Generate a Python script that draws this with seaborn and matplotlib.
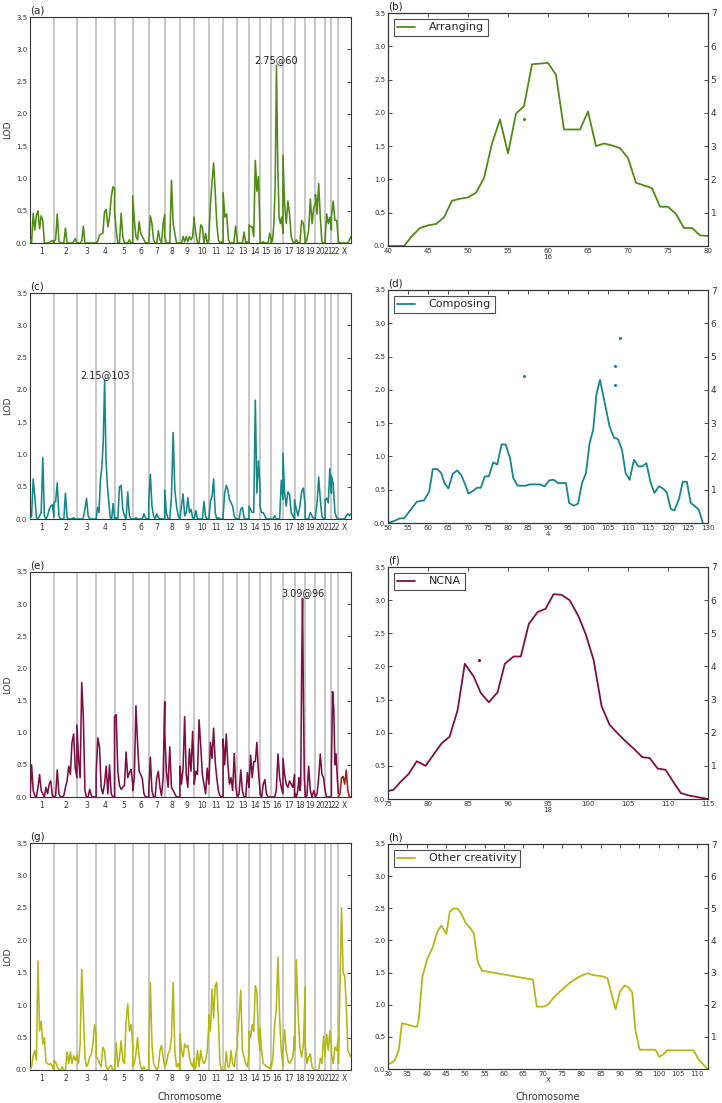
import numpy as np
import pandas as pd
import seaborn as sns
import matplotlib.pyplot as plt

# chromosome layout (genetic map length, cM)
chrom_names = [str(i) for i in range(1, 23)] + ["X"]
chrom_len = [278, 266, 223, 213, 211, 186, 185, 176, 166, 170, 165, 166,
             135, 127, 131, 135, 134, 124, 119, 112, 73, 81, 146]

# genome-wide LOD scans, one list per chromosome (evenly spaced along it)
arranging_lod = [
    [0.05, 0.0, 0.46, 0.2, 0.42, 0.5, 0.22, 0.42, 0.35, 0.0, 0.0, 0.0, 0.0, 0.02, 0.04, 0.0],
    [0.03, 0.05, 0.45, 0.03, 0.0, 0.0, 0.0, 0.23, 0.0, 0.0, 0.0, 0.0, 0.02, 0.07, 0.0],
    [0.0, 0.0, 0.0, 0.03, 0.26, 0.0, 0.0, 0.0, 0.0, 0.0, 0.0, 0.0, 0.0],
    [0.0, 0.03, 0.12, 0.14, 0.15, 0.48, 0.52, 0.25, 0.4, 0.7, 0.87, 0.85],
    [0.5, 0.2, 0.0, 0.0, 0.46, 0.1, 0.0, 0.0, 0.0, 0.05, 0.0, 0.0],
    [0.73, 0.35, 0.1, 0.05, 0.33, 0.15, 0.1, 0.05, 0.0, 0.0, 0.0],
    [0.0, 0.42, 0.3, 0.05, 0.0, 0.0, 0.19, 0.05, 0.0, 0.3, 0.44],
    [0.1, 0.0, 0.0, 0.0, 0.97, 0.3, 0.15, 0.0, 0.0, 0.0],
    [0.0, 0.0, 0.1, 0.02, 0.1, 0.02, 0.1, 0.05, 0.1, 0.4],
    [0.35, 0.15, 0.0, 0.0, 0.28, 0.25, 0.0, 0.15, 0.0, 0.05],
    [0.1, 0.6, 0.95, 1.24, 0.8, 0.3, 0.05, 0.0, 0.02, 0.0],
    [0.78, 0.4, 0.45, 0.05, 0.0, 0.0, 0.0, 0.26, 0.05],
    [0.0, 0.0, 0.0, 0.0, 0.17, 0.0, 0.02, 0.0],
    [0.28, 0.25, 0.25, 0.1, 1.28, 0.8, 1.03, 0.2],
    [0.0, 0.0, 0.02, 0.0, 0.0, 0.0, 0.15, 0.05],
    [0.0, 0.05, 0.3, 0.9, 2.75, 1.2, 0.4, 0.3, 0.4, 0.15],
    [1.36, 0.6, 0.3, 0.65, 0.45, 0.1, 0.02, 0.0],
    [0.0, 0.05, 0.0, 0.0, 0.35, 0.3, 0.05],
    [0.0, 0.05, 0.2, 0.68, 0.3, 0.55, 0.62],
    [0.75, 0.45, 0.92, 0.4, 0.02, 0.0, 0.0],
    [0.05, 0.45, 0.3, 0.4, 0.2],
    [0.4, 0.65, 0.35, 0.35, 0.05],
    [0.02, 0.0, 0.0, 0.0, 0.0, 0.0, 0.0, 0.05, 0.1],
]

composing_lod = [
    [0.0, 0.05, 0.62, 0.35, 0.02, 0.0, 0.05, 0.1, 0.95, 0.05, 0.0, 0.05, 0.15, 0.2, 0.22, 0.03],
    [0.25, 0.27, 0.56, 0.05, 0.0, 0.0, 0.0, 0.4, 0.02, 0.0, 0.0, 0.0, 0.02, 0.0, 0.0],
    [0.0, 0.0, 0.0, 0.0, 0.02, 0.15, 0.32, 0.05, 0.0, 0.0, 0.0, 0.0, 0.0],
    [0.0, 0.18, 0.1, 0.6, 0.8, 1.18, 2.15, 0.9, 0.5, 0.25, 0.02, 0.0, 0.24, 0.02],
    [0.0, 0.02, 0.0, 0.5, 0.52, 0.15, 0.05, 0.0, 0.42, 0.05, 0.0, 0.0],
    [0.0, 0.0, 0.02, 0.0, 0.0, 0.0, 0.0, 0.08, 0.02, 0.0, 0.0],
    [0.3, 0.69, 0.2, 0.05, 0.0, 0.08, 0.02, 0.0, 0.0, 0.0, 0.0],
    [0.45, 0.1, 0.0, 0.0, 0.35, 1.34, 0.45, 0.2, 0.05, 0.0],
    [0.0, 0.2, 0.39, 0.05, 0.1, 0.33, 0.1, 0.15, 0.02, 0.0],
    [0.0, 0.13, 0.0, 0.0, 0.0, 0.0, 0.27, 0.03, 0.0, 0.0],
    [0.0, 0.27, 0.35, 0.62, 0.1, 0.0, 0.02, 0.0, 0.0, 0.0],
    [0.05, 0.4, 0.52, 0.45, 0.3, 0.25, 0.2, 0.05, 0.0, 0.0],
    [0.0, 0.0, 0.15, 0.18, 0.02, 0.0, 0.0, 0.0],
    [0.2, 0.15, 0.1, 0.1, 1.84, 0.4, 0.9, 0.5],
    [0.2, 0.1, 0.1, 0.05, 0.0, 0.0, 0.0, 0.0],
    [0.0, 0.0, 0.05, 0.0, 0.0, 0.0, 0.6, 0.3],
    [1.02, 0.4, 0.2, 0.42, 0.38, 0.1, 0.05, 0.0],
    [0.3, 0.15, 0.05, 0.2, 0.42, 0.48, 0.2],
    [0.0, 0.0, 0.0, 0.1, 0.05, 0.0, 0.0],
    [0.05, 0.25, 0.65, 0.3, 0.05, 0.0, 0.0],
    [0.3, 0.32, 0.25, 0.78, 0.4],
    [0.67, 0.55, 0.1, 0.02, 0.0],
    [0.0, 0.0, 0.0, 0.0, 0.0, 0.05, 0.08, 0.05, 0.08],
]

ncna_lod = [
    [0.0, 0.5, 0.1, 0.02, 0.0, 0.15, 0.35, 0.1, 0.05, 0.0, 0.15, 0.05, 0.2, 0.25, 0.02, 0.0],
    [0.0, 0.02, 0.42, 0.05, 0.0, 0.0, 0.02, 0.15, 0.25, 0.48, 0.35, 0.85, 0.98, 0.45, 0.3],
    [1.12, 0.6, 0.3, 1.78, 1.25, 0.1, 0.0, 0.0, 0.12, 0.02, 0.0, 0.0, 0.0],
    [0.35, 0.92, 0.78, 0.15, 0.05, 0.2, 0.48, 0.05, 0.5, 0.05, 0.0, 0.0],
    [1.25, 1.28, 0.4, 0.18, 0.12, 0.15, 0.18, 0.7, 0.3, 0.38, 0.43, 0.2],
    [0.1, 0.3, 1.42, 0.85, 0.4, 0.35, 0.28, 0.05, 0.0, 0.0, 0.0],
    [0.1, 0.62, 0.1, 0.0, 0.0, 0.3, 0.4, 0.15, 0.02, 0.3, 1.48],
    [1.0, 0.4, 0.15, 0.78, 0.15, 0.1, 0.05, 0.0, 0.0, 0.0],
    [0.48, 0.2, 0.45, 1.25, 0.35, 0.15, 0.75, 0.4, 1.02, 0.3],
    [0.2, 0.4, 0.35, 1.2, 0.8, 0.35, 0.2, 0.05, 0.45, 0.2],
    [0.2, 0.85, 0.6, 1.07, 0.55, 0.3, 0.1, 0.02, 0.0, 0.0],
    [0.9, 0.5, 0.98, 0.5, 0.2, 0.3, 0.1, 0.68, 0.15, 0.0],
    [0.0, 0.05, 0.42, 0.1, 0.0, 0.0, 0.38, 0.15],
    [0.2, 0.65, 0.3, 0.55, 0.55, 0.85, 0.4, 0.1],
    [0.05, 0.0, 0.2, 0.27, 0.05, 0.0, 0.0, 0.0],
    [0.0, 0.0, 0.0, 0.1, 0.67, 0.3, 0.15, 0.05],
    [0.6, 0.35, 0.2, 0.15, 0.25, 0.2, 0.15, 0.35],
    [0.0, 0.05, 0.0, 0.05, 0.15, 0.3, 0.1, 0.2, 2.0, 3.09, 1.5, 0.3, 0.05],
    [0.0, 0.02, 0.48, 0.1, 0.0, 0.1, 0.0],
    [0.0, 0.05, 0.3, 0.67, 0.35, 0.3, 0.1],
    [0.1, 0.0, 0.0, 0.0, 0.02],
    [0.5, 1.64, 1.38, 0.5, 0.67, 0.3, 0.05],
    [0.0, 0.05, 0.3, 0.32, 0.2, 0.42, 0.1, 0.0, 0.0],
]

other_lod = [
    [0.0, 0.05, 0.22, 0.3, 0.15, 1.68, 0.6, 0.75, 0.4, 0.5, 0.12, 0.1, 0.08, 0.1, 0.05, 0.0],
    [0.15, 0.12, 0.05, 0.0, 0.0, 0.05, 0.0, 0.0, 0.28, 0.1, 0.28, 0.1, 0.22, 0.15, 0.23],
    [0.2, 0.1, 0.4, 1.55, 0.9, 0.2, 0.05, 0.1, 0.2, 0.25, 0.4, 0.7, 0.55],
    [0.2, 0.18, 0.1, 0.05, 0.35, 0.3, 0.05, 0.0, 0.05, 0.07, 0.0, 0.0],
    [0.0, 0.42, 0.05, 0.2, 0.45, 0.15, 0.1, 0.75, 1.02, 0.6, 0.7, 0.4],
    [0.05, 0.1, 0.25, 0.5, 0.2, 0.05, 0.0, 0.05, 0.0, 0.0, 0.0],
    [0.3, 1.35, 0.4, 0.1, 0.05, 0.0, 0.05, 0.3, 0.38, 0.2, 0.05],
    [0.05, 0.1, 0.25, 0.3, 0.5, 1.35, 0.3, 0.05, 0.1, 0.0],
    [0.55, 0.3, 0.2, 0.4, 0.35, 0.38, 0.2, 0.1, 0.05, 0.18],
    [0.0, 0.05, 0.3, 0.05, 0.3, 0.15, 0.1, 0.15, 0.3, 0.7],
    [0.85, 0.6, 1.25, 0.8, 1.3, 1.35, 0.8, 0.1, 0.0, 0.0],
    [0.0, 0.0, 0.28, 0.05, 0.05, 0.3, 0.1, 0.05, 0.25, 0.35],
    [0.5, 0.8, 1.23, 0.3, 0.2, 0.1, 0.05, 0.25],
    [0.6, 0.5, 0.7, 0.6, 1.3, 1.2, 0.5, 0.3],
    [0.65, 0.3, 0.1, 0.08, 0.05, 0.05, 0.02, 0.1],
    [0.05, 0.2, 0.7, 0.95, 1.74, 0.8, 0.3, 0.05],
    [0.3, 0.62, 0.3, 0.15, 0.1, 0.15, 0.2, 0.53],
    [0.3, 1.7, 0.9, 0.35, 0.2, 0.4, 1.28],
    [0.4, 0.1, 0.2, 0.25, 0.05, 0.0, 0.0],
    [0.0, 0.0, 0.0, 0.18, 0.1, 0.52, 0.2],
    [0.3, 0.55, 0.3, 0.6, 0.4],
    [0.25, 0.1, 0.35, 0.3, 0.5],
    [0.1, 1.3, 2.5, 1.5, 1.45, 1.0, 0.3, 0.25, 0.2],
]

# peak labels: (chromosome, cM, LOD)
arranging_peak = ("16", 60, 2.75)
composing_peak = ("4", 103, 2.15)
ncna_peak = ("18", 96, 3.09)

# zoomed regions
arranging_x = list(range(40, 81))
arranging_y = [0.0, 0.0, 0.0, 0.15, 0.27, 0.31, 0.33, 0.43, 0.68, 0.71, 0.73, 0.80,
               1.02, 1.54, 1.90, 1.39, 1.99, 2.10, 2.73, 2.74, 2.75, 2.57, 1.75, 1.75,
               1.75, 2.02, 1.50, 1.54, 1.51, 1.47, 1.32, 0.95, 0.91, 0.87, 0.59, 0.59,
               0.48, 0.27, 0.27, 0.16, 0.15]
arranging_dots_x = [57.0]
arranging_dots_y = [1.91]

composing_x = [50, 51.5, 53, 54, 55.7, 57.2, 59, 60.3, 61.2, 62.3, 63.3, 64.1, 65.1,
               66.2, 67.3, 68.3, 69.3, 70.1, 71.2, 72.3, 73.2, 74.2, 75.2, 76.3, 77.3,
               78.4, 79.4, 80.5, 81.3, 82.4, 83.4, 84.4, 85.4, 88.0, 89.1, 90.3, 91.4,
               92.5, 93.5, 94.5, 95.3, 96.4, 97.5, 98.5, 99.5, 100.4, 101.3, 102.1,
               103.0, 104.2, 105.4, 106.5, 107.5, 108.5, 109.4, 110.4, 111.5, 112.6,
               113.6, 114.6, 115.6, 116.6, 117.7, 118.7, 119.7, 120.7, 121.6, 122.7,
               123.7, 124.7, 125.7, 126.8, 127.7, 128.7]
composing_y = [0.0, 0.03, 0.07, 0.07, 0.2, 0.32, 0.34, 0.47, 0.81, 0.81, 0.75, 0.6,
               0.52, 0.74, 0.79, 0.72, 0.58, 0.44, 0.48, 0.53, 0.53, 0.7, 0.7, 0.91,
               0.88, 1.18, 1.18, 0.98, 0.68, 0.56, 0.56, 0.56, 0.58, 0.58, 0.55, 0.64,
               0.65, 0.6, 0.6, 0.6, 0.3, 0.26, 0.29, 0.6, 0.75, 1.2, 1.4, 1.93, 2.15,
               1.8, 1.45, 1.28, 1.26, 1.1, 0.75, 0.65, 0.95, 0.85, 0.85, 0.9, 0.62,
               0.45, 0.55, 0.52, 0.46, 0.21, 0.19, 0.35, 0.62, 0.62, 0.3, 0.25, 0.2, 0.0]
composing_dots_x = [84.1, 106.7, 106.7, 107.9]
composing_dots_y = [2.21, 2.36, 2.08, 2.78]

ncna_x = [75, 75.7, 76.5, 77.6, 78.6, 79.7, 80.7, 81.7, 82.7, 83.7, 84.6, 85.7, 86.6,
          87.6, 88.7, 89.6, 90.7, 91.6, 92.6, 93.7, 94.7, 95.7, 96.7, 97.7, 98.8,
          99.7, 100.7, 101.7, 102.7, 103.7, 104.7, 105.8, 106.8, 107.7, 108.7, 109.7,
          110.6, 111.6, 112.7, 115]
ncna_y = [0.12, 0.14, 0.25, 0.38, 0.57, 0.50, 0.67, 0.84, 0.94, 1.34, 2.04, 1.85, 1.6,
          1.46, 1.61, 2.04, 2.15, 2.15, 2.64, 2.82, 2.87, 3.09, 3.08, 3.0, 2.76, 2.49,
          2.1, 1.4, 1.12, 0.99, 0.87, 0.75, 0.63, 0.62, 0.46, 0.44, 0.27, 0.09, 0.05, 0.0]
ncna_dots_x = [86.4]
ncna_dots_y = [2.09]

other_x = [30, 31.5, 32, 32.8, 33.6, 34.5, 36.7, 37.5, 38, 38.9, 40.2, 41.5, 42.8,
           43.8, 45.1, 46, 47.1, 48.1, 49.1, 50.1, 51.3, 52.2, 53.2, 54.3, 67.5, 68.5,
           70.5, 71.7, 72.7, 74.4, 77, 79.6, 81.6, 83.1, 85.7, 86.8, 87.9, 88.9, 90,
           91.2, 92.2, 93.2, 94, 95.1, 99.2, 100.2, 101.3, 102.2, 109.1, 110.4, 111.3, 112.6]
other_y = [0.07, 0.12, 0.17, 0.3, 0.71, 0.70, 0.66, 0.66, 0.79, 1.44, 1.72, 1.88, 2.14,
           2.23, 2.1, 2.45, 2.50, 2.49, 2.4, 2.27, 2.19, 2.11, 1.67, 1.53, 1.39, 0.97,
           0.97, 1.02, 1.1, 1.2, 1.34, 1.44, 1.49, 1.46, 1.44, 1.41, 1.15, 0.93, 1.2,
           1.30, 1.27, 1.19, 0.61, 0.3, 0.3, 0.19, 0.23, 0.29, 0.29, 0.14, 0.09, 0.0]

green = "#4e8c14"
teal = "#14878a"
maroon = "#7e0f42"
olive = "#b3b814"
text_col = "#333333"

sns.set_style("white")
plt.rcParams["font.family"] = ["DejaVu Sans"]
plt.rcParams["xtick.direction"] = "in"
plt.rcParams["ytick.direction"] = "in"
plt.rcParams["axes.edgecolor"] = "#333333"
plt.rcParams["axes.linewidth"] = 0.8
plt.rcParams["xtick.color"] = text_col
plt.rcParams["ytick.color"] = text_col


def genome_frame(lod_lists):
    rows = []
    offset = 0.0
    for name, length, vals in zip(chrom_names, chrom_len, lod_lists):
        for p, v in zip(np.linspace(offset, offset + length, len(vals)), vals):
            rows.append((name, p, v))
        offset += length
    return pd.DataFrame(rows, columns=["chrom", "pos", "lod"])


def rect(l, t, r, b):
    return [l / 722, 1 - b / 1103, (r - l) / 722, (b - t) / 1103]


starts = np.concatenate([[0], np.cumsum(chrom_len)[:-1]])
centers = starts + np.array(chrom_len) / 2
total = float(np.sum(chrom_len))


def genome_panel(ax, lod_lists, color, letter, peak=None, x_color=None):
    for b in starts[1:]:
        ax.axvline(b, color="#c4c4c4", lw=1.3, zorder=1)
    df = genome_frame(lod_lists)
    if x_color is None:
        sns.lineplot(data=df, x="pos", y="lod", ax=ax, color=color, lw=1.15,
                     estimator=None, sort=False, zorder=3)
    else:
        sns.lineplot(data=df[df.chrom != "X"], x="pos", y="lod", ax=ax, color=color,
                     lw=1.15, estimator=None, sort=False, zorder=3)
        sns.lineplot(data=df[df.chrom == "X"], x="pos", y="lod", ax=ax, color=x_color,
                     lw=1.15, estimator=None, sort=False, zorder=3)
    ax.set_xlim(0, total)
    ax.set_ylim(0, 3.5)
    ax.set_yticks(np.arange(0, 3.51, 0.5))
    ax.set_yticklabels([f"{v:.1f}" for v in np.arange(0, 3.51, 0.5)], fontsize=5)
    ax.set_xticks(centers)
    ax.set_xticklabels(chrom_names, fontsize=5.5, color=text_col)
    ax.tick_params(axis="x", length=0, pad=3)
    ax.tick_params(axis="y", length=3, width=0.6, right=True, pad=2)
    ax.set_xlabel("")
    ax.set_ylabel("LOD", fontsize=6.5, color=text_col, labelpad=3)
    ax.text(0, 1.005, letter, transform=ax.transAxes, ha="left", va="bottom",
            fontsize=7.5, color="#222222")
    if peak is not None:
        ch, cm, val = peak
        px = starts[chrom_names.index(ch)] + cm
        ax.text(px, val, f"{val:.2f}@{cm}", ha="center", va="bottom", fontsize=7,
                color="#222222", zorder=4)


def region_panel(ax, x, y, color, label, chrom, xlim, xticks, letter,
                 dots_x=None, dots_y=None):
    sns.lineplot(x=x, y=y, ax=ax, color=color, lw=1.3, estimator=None, sort=False,
                 label=label)
    if dots_x:
        sns.scatterplot(x=dots_x, y=dots_y, ax=ax, color=color, s=5, linewidth=0)
    ax.set_xlim(*xlim)
    ax.set_ylim(0, 3.5)
    ax.set_xticks(xticks)
    ax.set_xticklabels([str(t) for t in xticks], fontsize=5)
    ax.set_yticks(np.arange(0, 3.51, 0.5))
    ax.set_yticklabels([f"{v:.1f}" for v in np.arange(0, 3.51, 0.5)], fontsize=5)
    ax.tick_params(axis="x", length=3, width=0.6, top=True, pad=1.5)
    ax.tick_params(axis="y", length=3, width=0.6, pad=2)
    ax.set_xlabel(chrom, fontsize=5, color=text_col, labelpad=0)
    ax.set_ylabel("")
    leg = ax.legend(loc="upper left", fontsize=8, frameon=True, fancybox=False,
                    borderaxespad=0.5, handlelength=1.6, handletextpad=1.2,
                    borderpad=0.35)
    leg.get_frame().set_edgecolor("#222222")
    leg.get_frame().set_linewidth(0.8)
    ax.text(0, 1.005, letter, transform=ax.transAxes, ha="left", va="bottom",
            fontsize=7.5, color="#222222")
    ax2 = ax.twinx()
    ax2.set_ylim(0, 7)
    ax2.set_yticks(range(1, 8))
    ax2.set_yticklabels([str(v) for v in range(1, 8)], fontsize=6.5)
    ax2.tick_params(axis="y", length=3, width=0.6, pad=2, colors=text_col)
    for s in ax2.spines.values():
        s.set_edgecolor("#333333")
        s.set_linewidth(0.8)


fig = plt.figure(figsize=(7.22, 11.03), dpi=100)

left_rows = [(17, 243), (293, 519), (572, 797), (843, 1070)]
right_rows = [(13, 246), (290, 523), (567, 799), (844, 1069)]

ax_a = fig.add_axes(rect(30, left_rows[0][0], 351, left_rows[0][1]))
genome_panel(ax_a, arranging_lod, green, "(a)", arranging_peak)
ax_c = fig.add_axes(rect(30, left_rows[1][0], 351, left_rows[1][1]))
genome_panel(ax_c, composing_lod, teal, "(c)", composing_peak)
ax_e = fig.add_axes(rect(30, left_rows[2][0], 351, left_rows[2][1]))
genome_panel(ax_e, ncna_lod, maroon, "(e)", ncna_peak, x_color="#9a2418")
ax_g = fig.add_axes(rect(30, left_rows[3][0], 351, left_rows[3][1]))
genome_panel(ax_g, other_lod, olive, "(g)")

ax_b = fig.add_axes(rect(388, right_rows[0][0], 708, right_rows[0][1]))
region_panel(ax_b, arranging_x, arranging_y, green, "Arranging", "16", (40, 80),
             list(range(40, 81, 5)), "(b)", arranging_dots_x, arranging_dots_y)
ax_d = fig.add_axes(rect(388, right_rows[1][0], 708, right_rows[1][1]))
region_panel(ax_d, composing_x, composing_y, teal, "Composing", "4", (50, 130),
             list(range(50, 131, 5)), "(d)", composing_dots_x, composing_dots_y)
ax_f = fig.add_axes(rect(388, right_rows[2][0], 708, right_rows[2][1]))
region_panel(ax_f, ncna_x, ncna_y, maroon, "NCNA", "18", (75, 115),
             list(range(75, 116, 5)), "(f)", ncna_dots_x, ncna_dots_y)
ax_h = fig.add_axes(rect(388, right_rows[3][0], 708, right_rows[3][1]))
region_panel(ax_h, other_x, other_y, olive, "Other creativity", "X", (30, 112.8),
             list(range(30, 111, 5)), "(h)")

fig.text(190 / 722, 1 - 1097 / 1103, "Chromosome", ha="center", va="center",
         fontsize=7, color=text_col)
fig.text(548 / 722, 1 - 1097 / 1103, "Chromosome", ha="center", va="center",
         fontsize=7, color=text_col)

fig.savefig("out.png", dpi=100)
